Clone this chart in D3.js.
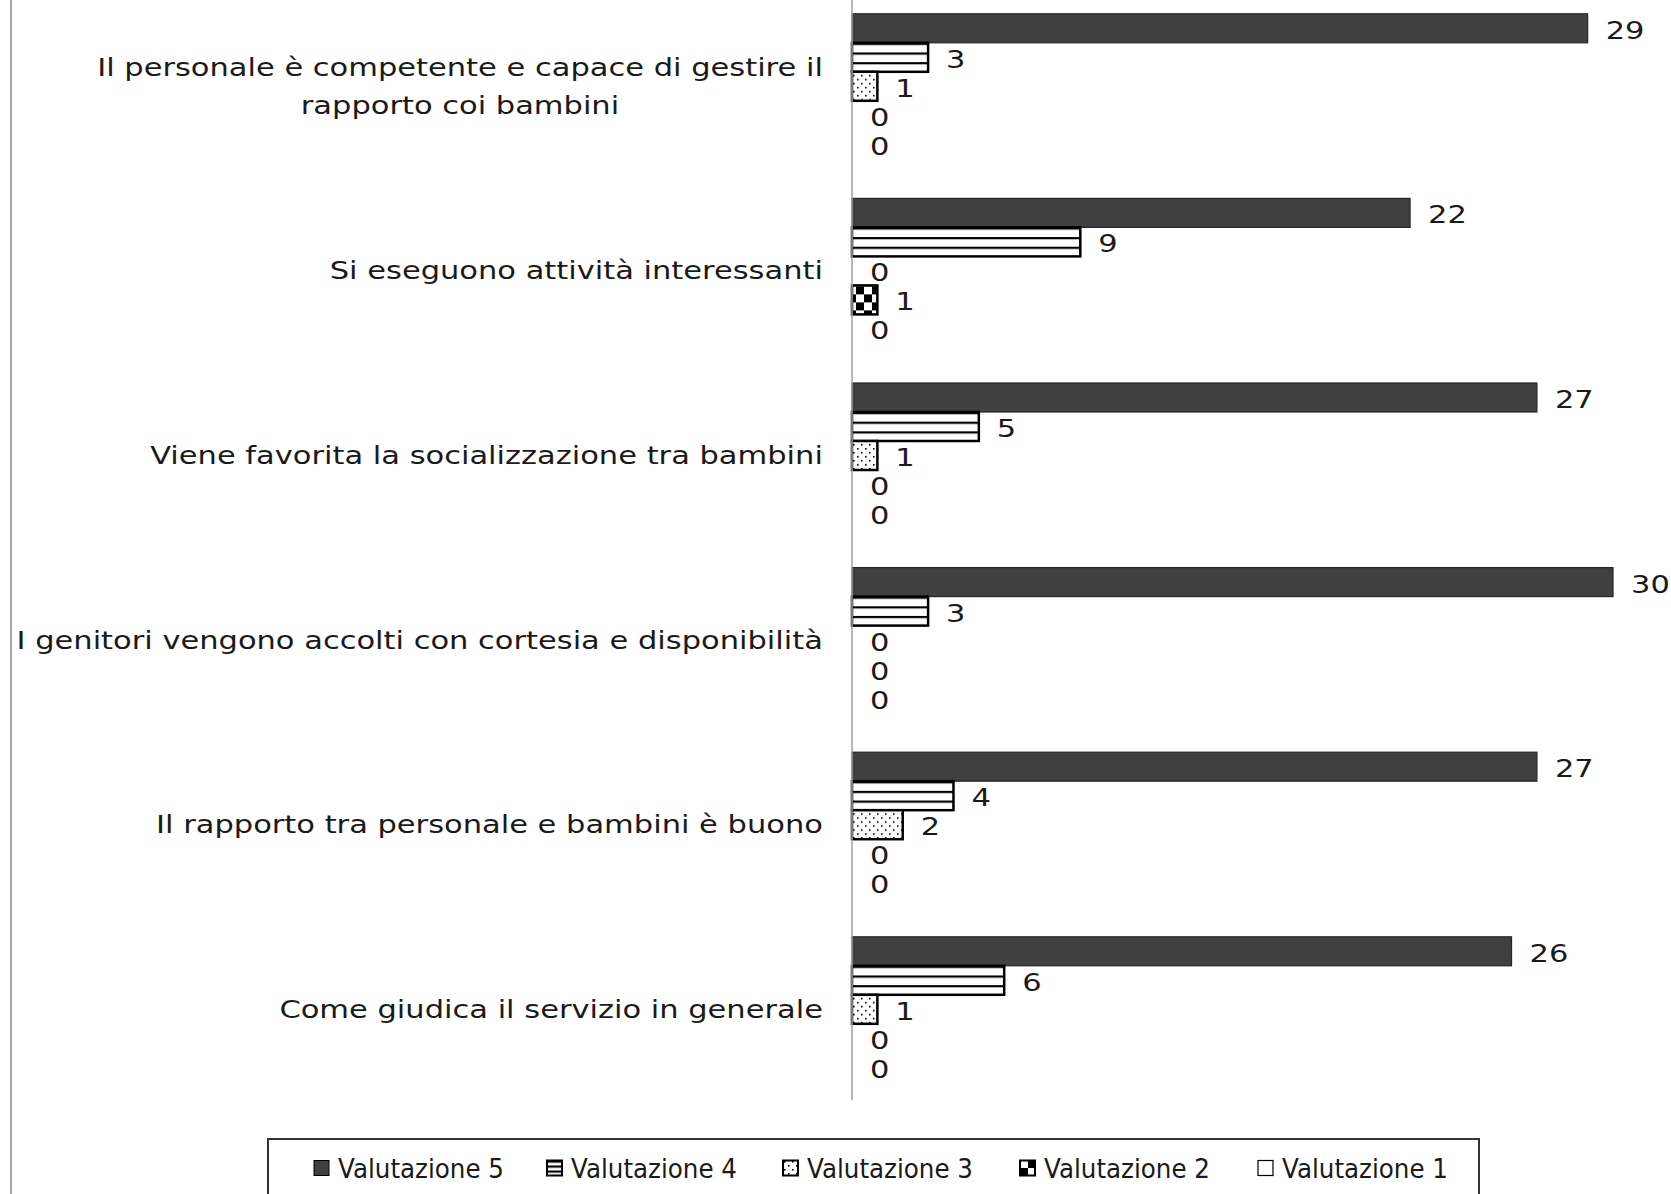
<!DOCTYPE html>
<html>
<head>
<meta charset="utf-8">
<script src="https://cdn.jsdelivr.net/npm/d3@7"></script>
<style>
  html, body { margin: 0; padding: 0; background: #fff; }
  svg { display: block; }
  text { font-family: "DejaVu Sans", Verdana, sans-serif; fill: #1a1a1a; }
</style>
</head>
<body>
<svg id="chart" width="1671" height="1194"></svg>
<script>
// Survey answers: number of ratings per question (5 = best)
const categories = [
  "Il personale è competente e capace di gestire il rapporto coi bambini",
  "Si eseguono attività interessanti",
  "Viene favorita la socializzazione tra bambini",
  "I genitori vengono accolti con cortesia e disponibilità",
  "Il rapporto tra personale e bambini è buono",
  "Come giudica il servizio in generale"
];
const seriesNames = ["Valutazione 5", "Valutazione 4", "Valutazione 3", "Valutazione 2", "Valutazione 1"];
const valutazione5 = [29, 22, 27, 30, 27, 26];
const valutazione4 = [3, 9, 5, 3, 4, 6];
const valutazione3 = [1, 0, 1, 0, 2, 1];
const valutazione2 = [0, 1, 0, 0, 0, 0];
const valutazione1 = [0, 0, 0, 0, 0, 0];
const seriesValues = [valutazione5, valutazione4, valutazione3, valutazione2, valutazione1];

const svg = d3.select("#chart");
const W = 1671, H = 1194;
const stretch = 1.22;   // wide lettering for labels

// ---- fill patterns ----
const defs = svg.append("defs");

// horizontal stripes
const pStripe = defs.append("pattern").attr("id", "pat-stripe")
  .attr("patternUnits", "objectBoundingBox").attr("width", 1).attr("height", 1 / 3);
pStripe.append("rect").attr("width", 4000).attr("height", 40).attr("fill", "#fff");
pStripe.append("rect").attr("width", 4000).attr("height", 2.2).attr("fill", "#000");

// sparse dots
const pDots = defs.append("pattern").attr("id", "pat-dots")
  .attr("patternUnits", "userSpaceOnUse").attr("width", 8).attr("height", 8);
pDots.append("rect").attr("width", 8).attr("height", 8).attr("fill", "#fff");
pDots.append("rect").attr("x", 1).attr("y", 1).attr("width", 1.6).attr("height", 1.6).attr("fill", "#000");
pDots.append("rect").attr("x", 5).attr("y", 5).attr("width", 1.6).attr("height", 1.6).attr("fill", "#000");

// checkerboard
const pCheck = defs.append("pattern").attr("id", "pat-check")
  .attr("patternUnits", "userSpaceOnUse").attr("width", 16).attr("height", 16);
pCheck.append("rect").attr("width", 16).attr("height", 16).attr("fill", "#fff");
pCheck.append("rect").attr("width", 8).attr("height", 8).attr("fill", "#000");
pCheck.append("rect").attr("x", 8).attr("y", 8).attr("width", 8).attr("height", 8).attr("fill", "#000");

const seriesStyle = [
  { fill: "#404040", stroke: "#262626", sw: 1.2 },
  { fill: "url(#pat-stripe)", stroke: "#000", sw: 2.5 },
  { fill: "url(#pat-dots)", stroke: "#000", sw: 2.5 },
  { fill: "url(#pat-check)", stroke: "#000", sw: 2.5 },
  { fill: "#fff", stroke: "#000", sw: 1.5 }
];

// ---- chart frame ----
svg.append("line")
  .attr("x1", 11).attr("x2", 11).attr("y1", 0).attr("y2", H)
  .attr("stroke", "#a6a6a6").attr("stroke-width", 2);

// ---- scales ----
const x = d3.scaleLinear().domain([0, 30]).range([852, 1613]);

const y = d3.scaleBand().domain(categories)
  .range([-6, 1101.6])
  .paddingInner(0.2145).paddingOuter(0.2145 / 2);

const yInner = d3.scaleBand().domain(seriesNames).range([0, y.bandwidth()]);

// ---- bars ----
const rows = categories.map((c, i) => ({
  category: c,
  values: seriesNames.map((s, k) => ({ series: s, k, value: seriesValues[k][i] }))
}));

const groups = svg.append("g").selectAll("g").data(rows).join("g")
  .attr("transform", d => `translate(0,${y(d.category)})`);

groups.selectAll("rect").data(d => d.values.filter(v => v.value > 0)).join("rect")
  .attr("x", x(0))
  .attr("y", d => yInner(d.series))
  .attr("width", d => x(d.value) - x(0))
  .attr("height", yInner.bandwidth())
  .attr("fill", d => seriesStyle[d.k].fill)
  .attr("stroke", d => seriesStyle[d.k].stroke)
  .attr("stroke-width", d => seriesStyle[d.k].sw);

groups.selectAll("text.val").data(d => d.values).join("text")
  .attr("class", "val")
  .attr("transform", d => `translate(${x(d.value) + 18},${yInner(d.series) + yInner.bandwidth() / 2 + 2}) scale(${stretch},1)`)
  .attr("dominant-baseline", "central")
  .attr("font-size", 25)
  .text(d => d.value);

// ---- category axis ----
svg.append("line")
  .attr("x1", x(0)).attr("x2", x(0)).attr("y1", 0).attr("y2", 1100)
  .attr("stroke", "#a0a0a0").attr("stroke-width", 1.5);

const labelRight = 823;
const wrapWidth = 830 / stretch;
const lineH = 38;

const catLabels = svg.append("g").selectAll("g").data(categories).join("g");

catLabels.each(function (d) {
  const g = d3.select(this);
  const t = g.append("text")
    .attr("font-size", 25)
    .attr("text-anchor", "middle");
  const words = d.split(" ");
  const lines = [];
  let cur = [];
  const probe = t.append("tspan");
  words.forEach(w => {
    const trial = cur.concat(w).join(" ");
    probe.text(trial);
    if (probe.node().getComputedTextLength() > wrapWidth && cur.length) {
      lines.push(cur.join(" "));
      cur = [w];
    } else {
      cur.push(w);
    }
  });
  lines.push(cur.join(" "));
  probe.remove();

  const cy = y(d) + y.bandwidth() / 2;
  const top = cy - (lines.length - 1) * lineH / 2;
  const spans = lines.map((ln, i) => t.append("tspan")
    .attr("x", 0)
    .attr("y", i * lineH)
    .attr("dominant-baseline", "central")
    .text(ln));
  const maxW = d3.max(spans, s => s.node().getComputedTextLength()) * stretch;
  t.attr("transform", `translate(${labelRight - maxW / 2},${top}) scale(${stretch},1)`);
});

// ---- legend ----
const legend = svg.append("g");
legend.append("rect")
  .attr("x", 268).attr("y", 1139).attr("width", 1211).attr("height", 90)
  .attr("fill", "#fff").attr("stroke", "#333").attr("stroke-width", 2);

const legendSwatchX = [314, 547, 783, 1020, 1258];
const legendCy = 1168;

const items = legend.selectAll("g.item").data(seriesNames).join("g")
  .attr("class", "item")
  .attr("transform", (d, i) => `translate(${legendSwatchX[i]},${legendCy})`);

items.append("rect")
  .attr("x", 0).attr("y", -7.5).attr("width", 15).attr("height", 15)
  .attr("fill", (d, i) => seriesStyle[i].fill)
  .attr("stroke", "#000")
  .attr("stroke-width", (d, i) => i === 0 ? 1 : (i === 4 ? 1.2 : 2));

items.append("text")
  .attr("x", 24).attr("y", 1)
  .attr("dominant-baseline", "central")
  .attr("font-size", 26)
  .attr("textLength", 166)
  .attr("lengthAdjust", "spacingAndGlyphs")
  .text(d => d);
</script>
</body>
</html>
